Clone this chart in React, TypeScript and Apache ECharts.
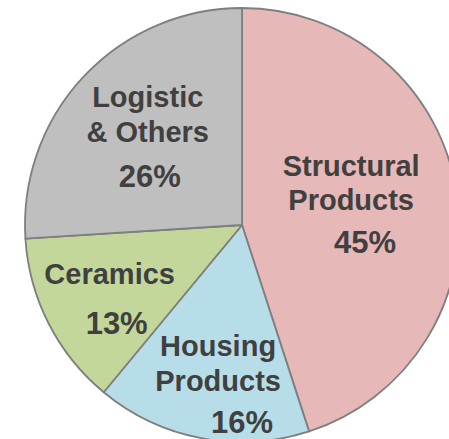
import React, { useEffect, useRef } from "react";
import * as echarts from "echarts";

const categories = ["Structural\nProducts", "Housing\nProducts", "Ceramics", "Logistic\n& Others"];
const values = [45, 16, 13, 26];
const colors = ["#E6B8B7", "#B7DEE8", "#C4D79B", "#BFBFBF"];
// per-slice label tweaks: [offsetX, offsetY, nameLineHeight, pctLineHeight, pctShiftX]
const labelTweaks: number[][] = [
  [-1, 1, 34, 52, 14],
  [-3, 53, 35, 49, 24],
  [-33, 30, 35, 63, 7],
  [-13, -7, 35, 55, 2],
];

export default function App() {
  const ref = useRef<HTMLDivElement>(null);
  useEffect(() => {
    document.body.style.margin = "0";
    const chart = echarts.init(ref.current!, null, { renderer: "svg" });
    const data = categories.map((name, i) => {
      const [ox, oy, nlh, plh, px] = labelTweaks[i];
      return {
        name,
        value: values[i],
        itemStyle: { color: colors[i] },
        label: {
          offset: [ox, oy],
          rich: {
            n: { fontSize: 29, lineHeight: nlh, fontWeight: "bold", color: "#404040", fontFamily: "Liberation Sans", align: "center" },
            p: { fontSize: 31, lineHeight: plh, fontWeight: "bold", color: "#404040", fontFamily: "Liberation Sans", align: "center", padding: [0, 0, 0, px * 2] },
          },
        },
      };
    });
    chart.setOption({
      animation: false,
      series: [
        {
          type: "pie",
          center: [242, 225],
          radius: 217,
          startAngle: 90,
          clockwise: true,
          silent: true,
          avoidLabelOverlap: false,
          minShowLabelAngle: 0,
          itemStyle: { borderColor: "#7F7F7F", borderWidth: 1.8 },
          label: {
            show: true,
            position: "inside",
            overflow: "none",
            formatter: (p: any) =>
              p.name
                .split("\n")
                .map((s: string) => `{n|${s}}`)
                .join("\n") + `\n{p|${p.value}%}`,
          },
          labelLayout: { hideOverlap: false },
          labelLine: { show: false },
          data,
        },
      ],
    });
    return () => chart.dispose();
  }, []);
  return <div ref={ref} style={{ position: "absolute", left: 0, top: 0, width: 449, height: 439 }} />;
}
